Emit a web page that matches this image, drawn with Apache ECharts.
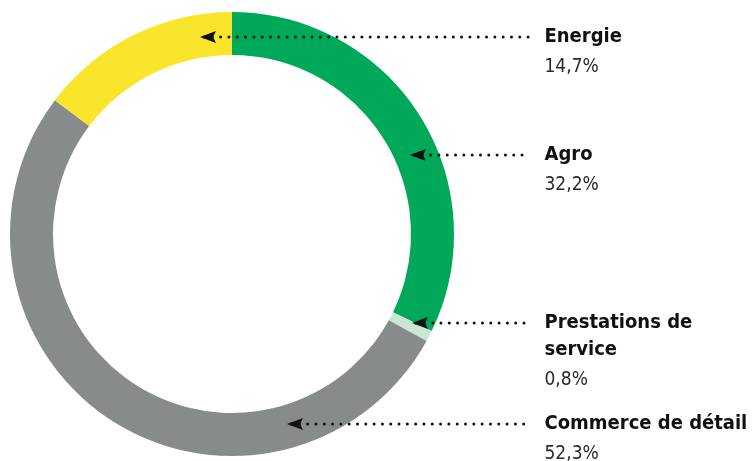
<!DOCTYPE html>
<html>
<head>
<meta charset="utf-8">
<script src="https://cdn.jsdelivr.net/npm/echarts@6/dist/echarts.min.js"></script>
<style>
  html, body { margin: 0; padding: 0; background: #fff; }
  #chart { width: 752px; height: 461px; }
</style>
</head>
<body>
<div id="chart"></div>
<script>
// segments, clockwise from the top
const segNames = ['Agro', 'Prestations de\nservice', 'Commerce de détail', 'Energie']
const segValues = [32.2, 0.8, 52.3, 14.7]
const segLabels = ['32,2%', '0,8%', '52,3%', '14,7%']
const segColors = ['#00a859', '#c9e7d3', '#878b8c', '#f9e52b']

// annotation arrows: tip on the ring, line runs right to the label
const arrowTipX = [410, 412, 287, 200]
const arrowY = [155, 323, 424, 37]
const lineEndX = 530

const FONT = "'Liberation Sans Narrow', 'DejaVu Sans Condensed', sans-serif"
// arrow head pointing up, turned to point left
const ARROW = 'path://M6,0 L12,15 L6,12.2 L0,15 Z'

const chart = echarts.init(document.getElementById('chart'), null, { renderer: 'canvas' })

const annotationSeries = segNames.map((name, i) => ({
  type: 'line',
  z: 5,
  silent: true,
  animation: false,
  lineStyle: { color: '#111', width: 3, type: [0.01, 8.3], cap: 'round' },
  data: [
    {
      value: [arrowTipX[i] + 4, arrowY[i]],
      symbol: ARROW,
      symbolSize: [12, 16],
      symbolRotate: 90,
      symbolOffset: [4, 0],
      symbolKeepAspect: false,
      itemStyle: { color: '#111' }
    },
    {
      value: [lineEndX, arrowY[i]],
      symbol: 'circle',
      symbolSize: 1,
      itemStyle: { color: 'rgba(0,0,0,0)' },
      label: {
        show: true,
        position: 'right',
        distance: 14,
        align: 'left',
        verticalAlign: 'top',
        offset: [0, -14],
        formatter: '{n|' + name.split('\n').join('}\n{n|') + '}\n{p|' + segLabels[i] + '}',
        rich: {
          n: { fontFamily: FONT, fontSize: 20, fontWeight: 'bold', color: '#111', lineHeight: 27 },
          p: { fontFamily: FONT, fontSize: 19, color: '#2a2a2a', lineHeight: 35 }
        }
      }
    }
  ]
}))

chart.setOption({
  backgroundColor: '#fff',
  animation: false,
  grid: { left: 0, right: 0, top: 0, bottom: 0 },
  xAxis: { type: 'value', min: 0, max: 752, show: false },
  yAxis: { type: 'value', min: 0, max: 461, inverse: true, show: false },
  series: [
    {
      type: 'pie',
      z: 1,
      silent: true,
      center: [232, 234],
      radius: [179, 222],
      startAngle: 90,
      clockwise: true,
      label: { show: false },
      labelLine: { show: false },
      itemStyle: { borderWidth: 0 },
      data: segNames.map((n, i) => ({ name: n, value: segValues[i], itemStyle: { color: segColors[i] } }))
    },
    ...annotationSeries
  ]
})
</script>
</body>
</html>
